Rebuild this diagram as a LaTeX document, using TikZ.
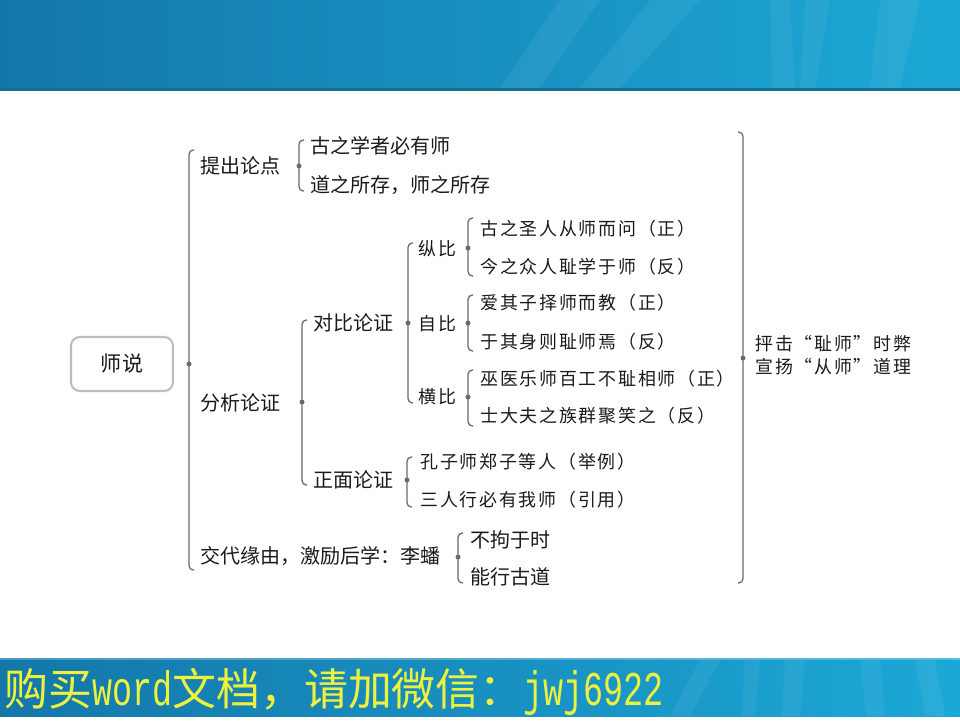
\documentclass[tikz,border=0pt]{standalone}
\usepackage{fontspec}
\usepackage{graphicx}
\setmainfont{Noto Sans CJK SC}
\newfontfamily\leaffont[LetterSpace=10]{Noto Sans CJK SC}
\newfontfamily\latinmono{Liberation Mono}
\usetikzlibrary{calc}

\definecolor{ink}{HTML}{1A1A1A}
\definecolor{linegray}{HTML}{6A6A6A}
\definecolor{boxgray}{HTML}{BDBDBD}
\definecolor{bannerL}{HTML}{1477AA}
\definecolor{bannerM}{HTML}{1681B5}
\definecolor{bannerR}{HTML}{1CA8D6}
\definecolor{bannerD}{HTML}{176E93}
\definecolor{adyellow}{HTML}{EEF23C}

\tikzset{
  brk/.style={draw=linegray, line width=0.75pt, rounded corners=2.5pt},
  dot/.style={circle, fill=linegray, inner sep=0pt, minimum size=0.1cm},
  lbl/.style={anchor=west, inner sep=0pt, text=ink, font=\fontsize{11.4pt}{12pt}\selectfont},
  leaf/.style={anchor=west, inner sep=0pt, text=ink, font=\leaffont\fontsize{10.2pt}{11pt}\selectfont},
  rootbox/.style={draw=boxgray, line width=1.2pt, rounded corners=5pt, text=ink,
    minimum width=2.04cm, minimum height=1.08cm, font=\fontsize{12pt}{13pt}\selectfont},
  streak/.style={fill=white, opacity=0.06}
}

% left and right brackets: dot, top y, bottom y
\newcommand\lbrk[3]{\draw[brk] ($(#1 |- 0,#2)+(5,0)$) -- (#1 |- 0,#2) -- (#1 |- 0,#3) -- ($(#1 |- 0,#3)+(5,0)$);}
\newcommand\rbrk[3]{\draw[brk] ($(#1 |- 0,#2)+(-5,0)$) -- (#1 |- 0,#2) -- (#1 |- 0,#3) -- ($(#1 |- 0,#3)+(-5,0)$);}
\newcommand\adlatin[1]{{\latinmono\fontsize{19pt}{20pt}\selectfont\scalebox{1}[1.45]{#1}}}

\begin{document}
\begin{tikzpicture}[x=0.02cm, y=-0.02cm]
    \useasboundingbox (0,0) rectangle (960,720);

    % banners
    \shade[left color=bannerL, middle color=bannerM, right color=bannerR] (0,0) rectangle (960,89);
    \fill[bannerD] (0,88) rectangle (960,91);
    \fill[streak] (560,0) -- (600,0) -- (540,88) -- (500,88) -- cycle;
    \fill[streak] (650,0) -- (700,0) -- (620,88) -- (580,88) -- cycle;
    \fill[streak] (770,0) -- (790,0) -- (795,88) -- (772,88) -- cycle;
    \fill[streak] (805,0) -- (830,0) -- (815,88) -- (800,88) -- cycle;
    \fill[streak] (880,0) -- (920,0) -- (900,88) -- (870,88) -- cycle;
    \shade[left color=bannerL, middle color=bannerM, right color=bannerR] (0,658) rectangle (960,716);
    \fill[white, opacity=0.25] (0,658) rectangle (960,660);
    \fill[streak] (700,660) -- (720,660) -- (690,716) -- (670,716) -- cycle;
    \fill[streak] (745,660) -- (760,660) -- (755,716) -- (742,716) -- cycle;
    \fill[streak] (785,660) -- (805,660) -- (800,716) -- (782,716) -- cycle;
    \fill[streak] (860,660) -- (880,660) -- (885,716) -- (866,716) -- cycle;
    \fill[streak] (915,660) -- (935,660) -- (945,716) -- (925,716) -- cycle;
    \node[anchor=west, inner sep=0pt, text=adyellow, font=\fontsize{25pt}{26pt}\selectfont] (ad) at (4,692)
        {购买\adlatin{word}文档，请加微信：\adlatin{jwj6922}};

    % tree
    \node[rootbox] (root) at (122,364) {师说};
    \node[dot] (d0) at (189,364) {};
    \lbrk{d0}{150}{570}

    \node[lbl] (tichu) at (200,166) {提出论点};
    \node[dot] (d1) at (299,166) {};
    \lbrk{d1}{140}{191}
    \node[lbl] (gu) at (310,146) {古之学者必有师};
    \node[lbl] (dao) at (310,185) {道之所存，师之所存};

    \node[lbl] (fenxi) at (200,403) {分析论证};
    \node[dot] (d2) at (302,402) {};
    \lbrk{d2}{320}{485}

    \node[lbl] (duibi) at (313,323) {对比论证};
    \node[dot] (d3) at (408,323) {};
    \lbrk{d3}{243}{403}

    \node[leaf] (zong) at (418,249) {纵比};
    \node[dot] (d4) at (468,248) {};
    \lbrk{d4}{218}{276}
    \node[leaf] (zong1) at (480,229) {古之圣人从师而问（正）};
    \node[leaf] (zong2) at (480,267) {今之众人耻学于师（反）};

    \node[leaf] (zi) at (418,324) {自比};
    \node[dot] (d5) at (468,323) {};
    \lbrk{d5}{295}{351}
    \node[leaf] (zi1) at (480,303) {爱其子择师而教（正）};
    \node[leaf] (zi2) at (480,342) {于其身则耻师焉（反）};

    \node[leaf] (heng) at (418,397) {横比};
    \node[dot] (d6) at (468,397) {};
    \lbrk{d6}{370}{426}
    \node[leaf] (heng1) at (480,379) {巫医乐师百工不耻相师（正）};
    \node[leaf] (heng2) at (480,416) {士大夫之族群聚笑之（反）};

    \node[lbl] (zheng) at (313,480) {正面论证};
    \node[dot] (d7) at (407,480) {};
    \lbrk{d7}{457}{507}
    \node[leaf] (zheng1) at (420,462) {孔子师郑子等人（举例）};
    \node[leaf] (zheng2) at (420,500) {三人行必有我师（引用）};

    \node[lbl] (jiaodai) at (200,556) {交代缘由，激励后学：李蟠};
    \node[dot] (d8) at (458,557) {};
    \lbrk{d8}{533}{583}
    \node[lbl] (buju) at (470,540) {不拘于时};
    \node[lbl] (neng) at (470,577) {能行古道};

    % conclusion
    \node[dot] (d9) at (743,358) {};
    \rbrk{d9}{132}{583}
    \node[leaf] (pengji) at (755,344) {抨击“耻师”时弊};
    \node[leaf] (xuanyang) at (755,367) {宣扬“从师”道理};

\end{tikzpicture}
\end{document}
